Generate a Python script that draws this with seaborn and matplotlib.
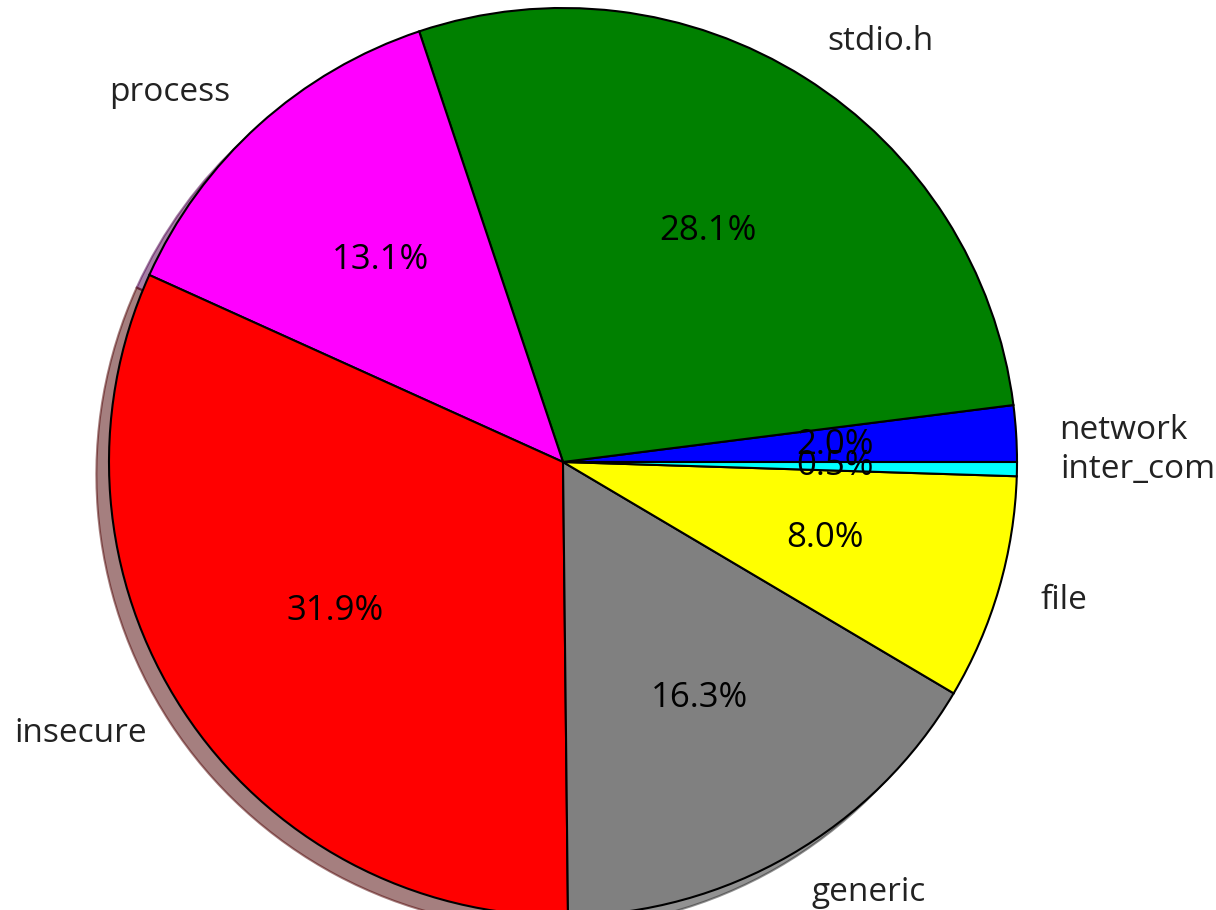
import matplotlib
matplotlib.use("Agg")
import matplotlib.pyplot as plt
import seaborn as sns

labels = ['network', 'stdio.h', 'process', 'insecure', 'generic', 'file', 'inter_com']
shares = [2.0, 28.1, 13.1, 31.9, 16.3, 8.0, 0.5]
colors = ['blue', 'green', 'magenta', 'red', 'gray', 'yellow', 'cyan']

sns.set_style("white")
plt.rcParams['font.family'] = ['Open Sans', 'DejaVu Sans']

fig = plt.figure(figsize=(12.16, 9.10), dpi=100)
ax = fig.add_axes([0, 0, 1, 1])

wedges, texts, autotexts = ax.pie(
    shares, labels=labels, colors=colors, autopct='%1.1f%%',
    shadow=True, startangle=0, counterclock=True, labeldistance=1.095,
    wedgeprops={'edgecolor': 'black', 'linewidth': 1.5},
    textprops={'fontsize': 24, 'color': '#222222'},
)
for t in autotexts:
    t.set_color('black')
    t.set_fontsize(25)

# place the pie so it fills the frame like the screenshot (partly cut at the bottom)
px = 454.0
cx, cy = 563.0, 910 - 462.0
ax.set_aspect('auto')
ax.set_xlim(-cx / px, (1216 - cx) / px)
ax.set_ylim(-cy / px, (910 - cy) / px)
ax.axis('off')

fig.savefig('out.png', dpi=100)
